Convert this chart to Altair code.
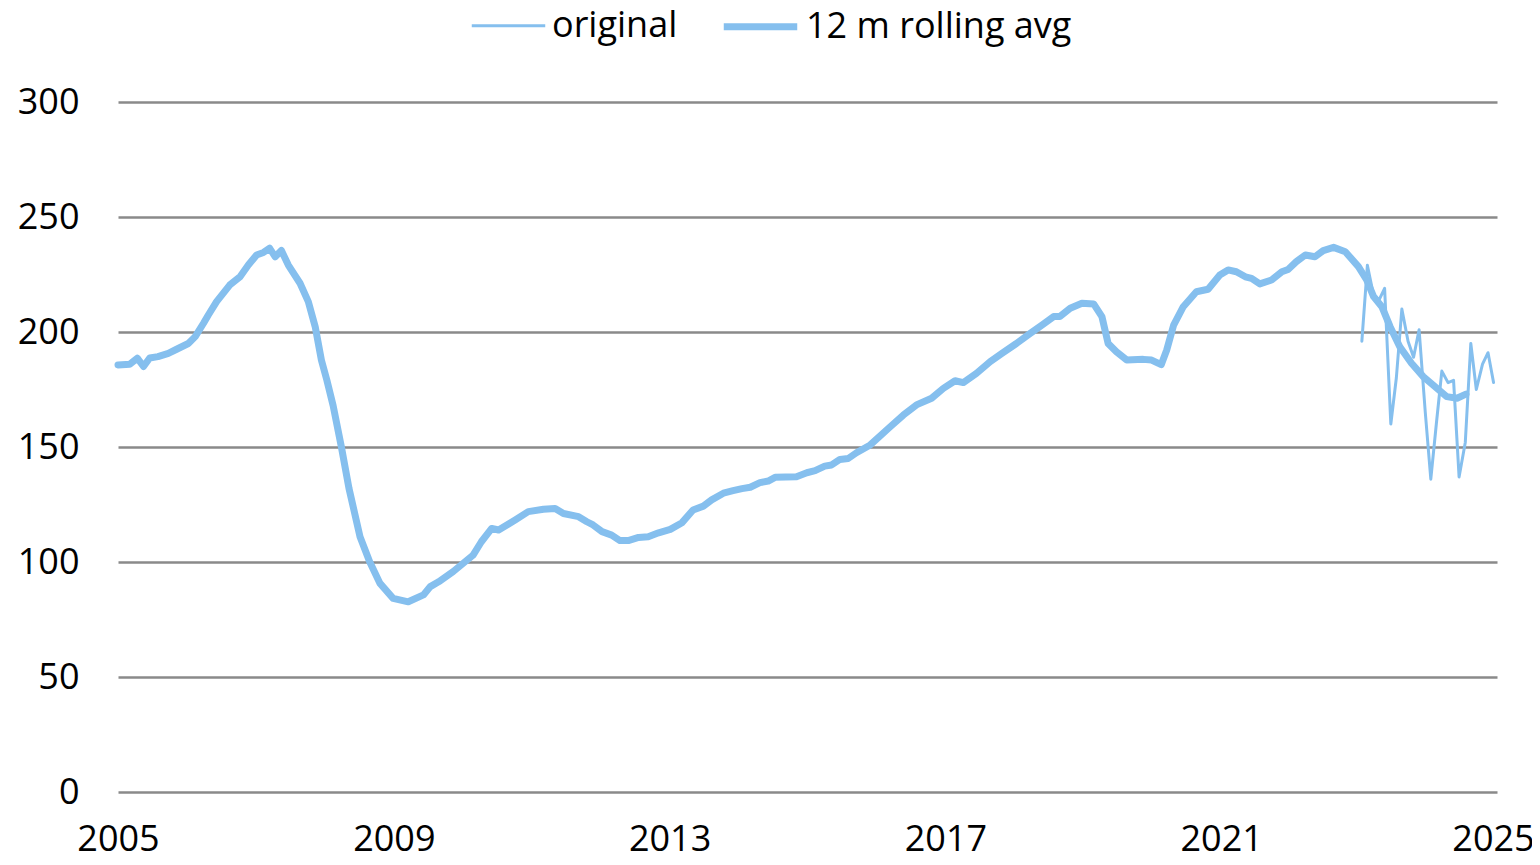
import altair as alt
import pandas as pd

# 12-month rolling average (decimal year, value)
roll_t = [2005.00, 2005.17, 2005.28, 2005.37, 2005.46, 2005.58, 2005.73, 2005.85,
          2006.02, 2006.12, 2006.24, 2006.31, 2006.43, 2006.62, 2006.77, 2006.89,
          2007.01, 2007.11, 2007.20, 2007.28, 2007.37, 2007.47, 2007.64, 2007.76,
          2007.86, 2007.95, 2008.03, 2008.12, 2008.24, 2008.35, 2008.51, 2008.65,
          2008.80, 2008.99, 2009.21, 2009.43, 2009.53, 2009.65, 2009.86, 2010.15,
          2010.27, 2010.42, 2010.52, 2010.76, 2010.95, 2011.17, 2011.34, 2011.46,
          2011.68, 2011.80, 2011.89, 2012.02, 2012.16, 2012.28, 2012.40, 2012.55,
          2012.69, 2012.84, 2013.01, 2013.18, 2013.34, 2013.49, 2013.61, 2013.78,
          2013.92, 2014.05, 2014.17, 2014.31, 2014.43, 2014.53, 2014.84, 2014.99,
          2015.11, 2015.25, 2015.35, 2015.47, 2015.59, 2015.71, 2015.91, 2016.20,
          2016.39, 2016.58, 2016.80, 2016.97, 2017.14, 2017.26, 2017.45, 2017.65,
          2017.82, 2018.03, 2018.23, 2018.40, 2018.57, 2018.66, 2018.81, 2018.98,
          2019.15, 2019.27, 2019.36, 2019.48, 2019.63, 2019.87, 2019.99, 2020.13,
          2020.21, 2020.31, 2020.45, 2020.64, 2020.81, 2020.98, 2021.10, 2021.22,
          2021.35, 2021.44, 2021.56, 2021.73, 2021.88, 2021.97, 2022.09, 2022.22,
          2022.36, 2022.48, 2022.63, 2022.80, 2022.99, 2023.11, 2023.21, 2023.33,
          2023.45, 2023.59, 2023.76, 2023.93, 2024.13, 2024.27, 2024.42, 2024.55]
roll_v = [185.7, 186.0, 188.6, 185.0, 188.7, 189.3, 190.7, 192.5,
          195.0, 198.0, 203.8, 207.4, 213.2, 220.4, 224.0, 229.1,
          233.5, 234.6, 236.4, 232.7, 235.4, 229.1, 221.2, 213.2,
          202.3, 187.8, 179.0, 168.0, 150.0, 132.0, 111.0, 100.1,
          90.7, 84.2, 82.7, 85.7, 89.3, 91.4, 95.8, 103.0,
          108.8, 114.6, 113.9, 118.3, 121.9, 122.9, 123.3, 121.1,
          119.7, 117.5, 116.1, 113.2, 111.7, 109.3, 109.3, 110.7,
          111.0, 112.7, 114.2, 117.1, 122.6, 124.3, 127.0, 129.9,
          131.0, 131.9, 132.5, 134.5, 135.2, 136.8, 137.1, 138.8,
          139.7, 141.7, 142.2, 144.6, 145.0, 147.5, 150.9, 158.8,
          163.9, 168.3, 171.2, 175.5, 178.8, 178.0, 182.0, 187.1,
          190.7, 195.0, 199.4, 203.0, 206.7, 206.7, 210.3, 212.5,
          212.2, 206.7, 195.0, 191.4, 187.8, 188.1, 187.8, 185.8,
          192.2, 203.0, 211.0, 217.5, 218.6, 224.8, 227.0, 226.2,
          224.0, 223.3, 220.9, 222.6, 226.2, 227.2, 230.6, 233.5,
          232.7, 235.4, 236.8, 234.9, 228.4, 222.6, 215.4, 211.0,
          202.3, 193.6, 186.4, 180.6, 175.5, 171.9, 171.2, 173.0]

# original monthly series (Jan 2023 - Dec 2024)
orig_t = [2023.04, 2023.12, 2023.21, 2023.29, 2023.37, 2023.46, 2023.54, 2023.62,
          2023.71, 2023.79, 2023.87, 2023.96, 2024.04, 2024.12, 2024.20, 2024.29,
          2024.37, 2024.45, 2024.54, 2024.62, 2024.70, 2024.79, 2024.87, 2024.95]
orig_v = [196, 229, 216, 214, 219, 160, 180, 210,
          196, 189, 201, 165, 136, 160, 183, 178,
          179, 137, 152, 195, 175, 186, 191, 178]

series = ["original", "12 m rolling avg"]
x_ticks = [2005, 2009, 2013, 2017, 2021, 2025]
y_ticks = [0, 50, 100, 150, 200, 250, 300]

df = pd.concat([
    pd.DataFrame({"t": orig_t, "v": orig_v, "series": series[0]}),
    pd.DataFrame({"t": roll_t, "v": roll_v, "series": series[1]}),
], ignore_index=True)

LINE = "#85BFEE"
FONT = "Open Sans"
FS = 36

legend = alt.Legend(
    title=None, orient="none", legendX=352, legendY=-116,
    direction="horizontal", symbolType="stroke", symbolSize=5400,
    labelFontSize=FS, labelFont=FONT, labelColor="black", labelLimit=0,
    columnPadding=31, labelOffset=5, padding=0,
)

chart = alt.Chart(df).mark_line(strokeCap="round", strokeJoin="round").encode(
    x=alt.X("t:Q",
            scale=alt.Scale(domain=[2005, 2025], nice=False, zero=False),
            axis=alt.Axis(values=x_ticks, format="d", title=None, grid=False,
                          domain=False, ticks=False, tickSize=0, labelPadding=30,
                          labelOffset={"condition": {"test": "datum.value == 2025", "value": -4}, "value": 0},
                          labelFontSize=FS, labelFont=FONT, labelColor="black",
                          labelFlush=False, labelOverlap=False)),
    y=alt.Y("v:Q",
            scale=alt.Scale(domain=[0, 300], nice=False),
            axis=alt.Axis(values=y_ticks, title=None, grid=True,
                          gridColor="#8a8a8a", gridWidth=2.5,
                          domain=False, ticks=False, tickSize=0, labelPadding=39,
                          labelFontSize=FS, labelFont=FONT, labelColor="black")),
    color=alt.Color("series:N",
                    scale=alt.Scale(domain=series, range=[LINE, LINE]),
                    legend=legend),
    strokeWidth=alt.StrokeWidth("series:N",
                                scale=alt.Scale(domain=series, range=[3, 7]),
                                legend=legend),
).properties(
    width=1379, height=690,
    background="white",
    autosize=alt.AutoSizeParams(type="none"),
    padding={"left": 110, "top": 94, "right": 35, "bottom": 65},
).configure_view(stroke=None)

chart.save("out.html", embed_options={"renderer": "svg", "actions": False})
